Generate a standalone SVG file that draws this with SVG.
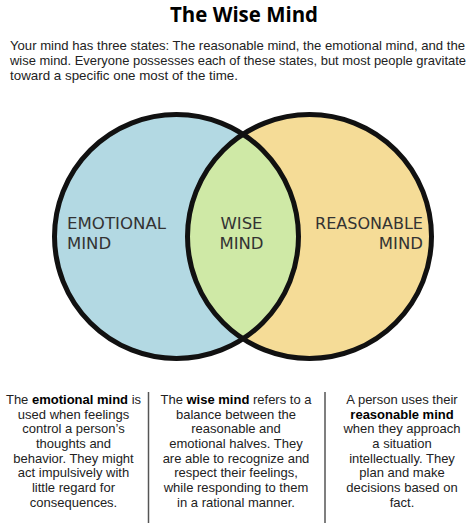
<svg xmlns="http://www.w3.org/2000/svg" width="474" height="528" viewBox="0 0 474 528">
<style>
  .title { font-family: "Open Sans", "Liberation Sans", sans-serif; font-weight: bold; font-size: 21px; fill: #000; }
  .intro { font-family: "Liberation Sans", "DejaVu Sans", sans-serif; font-size: 13px; fill: #222; }
  .lbl { font-family: "DejaVu Sans", "Liberation Sans", sans-serif; font-size: 16.5px; fill: #333; }
  .col { font-family: "Liberation Sans", "DejaVu Sans", sans-serif; font-size: 13px; fill: #222; text-anchor: middle; }
  .col tspan.b { font-weight: bold; fill: #000; }
  .ring { fill: none; stroke: #111; stroke-width: 5; }
  .div { stroke: #555; stroke-width: 1.5; }
</style>
<defs>
  <clipPath id="clipL"><circle cx="176.5" cy="236.5" r="122"/></clipPath>
</defs>
<rect width="474" height="528" fill="#fff"/>
<text class="title" x="244" y="22" text-anchor="middle" textLength="148" lengthAdjust="spacingAndGlyphs">The Wise Mind</text>
<text class="intro" x="10" y="50" textLength="455" lengthAdjust="spacingAndGlyphs">Your mind has three states: The reasonable mind, the emotional mind, and the</text>
<text class="intro" x="10" y="65" textLength="456" lengthAdjust="spacingAndGlyphs">wise mind. Everyone possesses each of these states, but most people gravitate</text>
<text class="intro" x="10" y="80" textLength="228" lengthAdjust="spacingAndGlyphs">toward a specific one most of the time.</text>

<g id="emotional">
  <circle cx="176.5" cy="236.5" r="122" fill="#b3d9e3"/>
</g>
<g id="reasonable">
  <circle cx="309.5" cy="236.5" r="122" fill="#f5dc97"/>
</g>
<g id="wise">
  <circle cx="309.5" cy="236.5" r="122" fill="#cfe9a6" clip-path="url(#clipL)"/>
</g>
<g id="rings">
  <circle class="ring" cx="176.5" cy="236.5" r="122"/>
  <circle class="ring" cx="309.5" cy="236.5" r="122"/>
</g>
<g id="labels">
  <text class="lbl" x="67" y="229" textLength="99" lengthAdjust="spacingAndGlyphs">EMOTIONAL</text>
  <text class="lbl" x="67" y="249">MIND</text>
  <text class="lbl" x="241.5" y="229" text-anchor="middle">WISE</text>
  <text class="lbl" x="241.5" y="249" text-anchor="middle">MIND</text>
  <text class="lbl" x="423" y="229" text-anchor="end" textLength="108" lengthAdjust="spacingAndGlyphs">REASONABLE</text>
  <text class="lbl" x="423" y="249" text-anchor="end">MIND</text>
</g>

<g id="connectors">
  <line class="div" x1="148.5" y1="392" x2="148.5" y2="523"/>
  <line class="div" x1="325" y1="392" x2="325" y2="523"/>
</g>

<g id="col-emotional">
  <text class="col" x="73.5" y="404">The <tspan class="b">emotional mind</tspan> is</text>
  <text class="col" x="73.5" y="418.7">used when feelings</text>
  <text class="col" x="73.5" y="433.4">control a person’s</text>
  <text class="col" x="73.5" y="448">thoughts and</text>
  <text class="col" x="73.5" y="462.7">behavior. They might</text>
  <text class="col" x="73.5" y="477.4">act impulsively with</text>
  <text class="col" x="73.5" y="492">little regard for</text>
  <text class="col" x="73.5" y="506.7">consequences.</text>
</g>
<g id="col-wise">
  <text class="col" x="236" y="404">The <tspan class="b">wise mind</tspan> refers to a</text>
  <text class="col" x="236" y="418.7">balance between the</text>
  <text class="col" x="236" y="433.4">reasonable and</text>
  <text class="col" x="236" y="448">emotional halves. They</text>
  <text class="col" x="236" y="462.7">are able to recognize and</text>
  <text class="col" x="236" y="477.4">respect their feelings,</text>
  <text class="col" x="236" y="492">while responding to them</text>
  <text class="col" x="236" y="506.7">in a rational manner.</text>
</g>
<g id="col-reasonable">
  <text class="col" x="402" y="404">A person uses their</text>
  <text class="col" x="402" y="418.7"><tspan class="b">reasonable mind</tspan></text>
  <text class="col" x="402" y="433.4">when they approach</text>
  <text class="col" x="402" y="448">a situation</text>
  <text class="col" x="402" y="462.7">intellectually. They</text>
  <text class="col" x="402" y="477.4">plan and make</text>
  <text class="col" x="402" y="492">decisions based on</text>
  <text class="col" x="402" y="506.7">fact.</text>
</g>
</svg>
